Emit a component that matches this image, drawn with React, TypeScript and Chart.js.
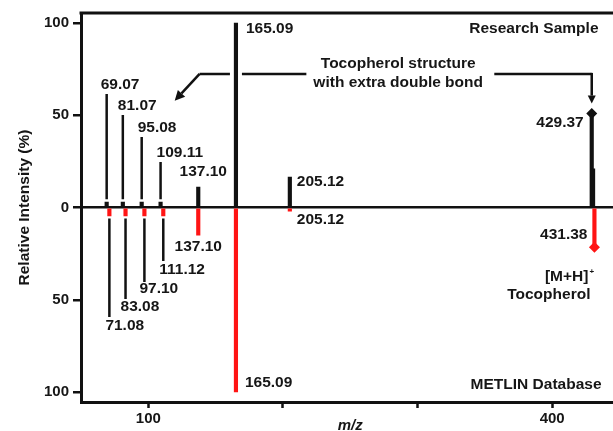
import React, { useEffect, useRef } from 'react';
import { Chart, registerables } from 'chart.js';

Chart.register(...registerables);

// ---------- data ----------
const sampleMz = [69.07, 81.07, 95.08, 109.11, 137.1, 165.09, 205.12, 429.37, 430.37];
const sampleIntensity = [3, 3, 3, 3, 11, 100, 16.5, 51, 21];
const sampleLabels = ['69.07', '81.07', '95.08', '109.11', '137.10', '165.09', '205.12', '429.37', ''];

const dbMz = [71.08, 83.08, 97.1, 111.12, 137.1, 165.09, 205.12, 431.38];
const dbIntensity = [4.5, 4.5, 4.5, 4.5, 15, 100, 2, 21.5];
const dbLabels = ['71.08', '83.08', '97.10', '111.12', '137.10', '165.09', '205.12', '431.38'];

const yTickValues = [-100, -50, 0, 50, 100];
const xTickValues = [100, 200, 300, 400];
const xTickLabels = ['100', '', '', '400'];

// ---------- annotation layout (styling) ----------
type Lay = { level: number; dx: number; align: CanvasTextAlign } | null;
const sampleLabelLayout: Lay[] = [
  { level: 66.4, dx: -6, align: 'left' },
  { level: 55.0, dx: -5, align: 'left' },
  { level: 43.1, dx: -4, align: 'left' },
  { level: 29.6, dx: -4, align: 'left' },
  { level: 19.2, dx: 5, align: 'center' },
  { level: 96.7, dx: 10, align: 'left' },
  { level: 13.8, dx: 7, align: 'left' },
  { level: 45.8, dx: -8, align: 'right' },
  null,
];
const dbLabelLayout: Lay[] = [
  { level: -64.2, dx: -4, align: 'left' },
  { level: -53.9, dx: -5, align: 'left' },
  { level: -44.2, dx: -5, align: 'left' },
  { level: -33.9, dx: -4, align: 'left' },
  { level: -21.4, dx: 0, align: 'center' },
  { level: -95.1, dx: 9, align: 'left' },
  { level: -6.8, dx: 7, align: 'left' },
  { level: -14.9, dx: -7, align: 'right' },
];
const sampleLeaderEnd = [61.5, 50.1, 38.2, 24.7];
const sampleLeaderStart = 4.5;
const dbLeaderEnd = [-59.3, -49.6, -40.4, -29.0];
const dbLeaderStart = -6;

const calloutLevel = 72.4;
const calloutLeftFrom = 217.4;
const calloutLeftTo = 138.1;
const calloutLeftTip = { x: 119.6, y: 57.9 };
const calloutRightFrom = 357;
const calloutRightTipLevel = 56.3;
const calloutText = ['Tocopherol structure', 'with extra double bond'];
const calloutTextX = 285.6;
const calloutTextLevels = [77.8, 67.5];

const FAMILY = '"Liberation Sans", Arial, Helvetica, sans-serif';
const INK = '#161616';
const RED = '#ff1414';

function arrowTo(ctx: CanvasRenderingContext2D, x0: number, y0: number, x1: number, y1: number, head = 9, halfW = 4.5) {
  const ang = Math.atan2(y1 - y0, x1 - x0);
  const bx = x1 - head * Math.cos(ang);
  const by = y1 - head * Math.sin(ang);
  ctx.beginPath();
  ctx.moveTo(x0, y0);
  ctx.lineTo(bx, by);
  ctx.stroke();
  ctx.beginPath();
  ctx.moveTo(x1, y1);
  ctx.lineTo(bx + halfW * Math.sin(ang), by - halfW * Math.cos(ang));
  ctx.lineTo(bx - halfW * Math.sin(ang), by + halfW * Math.cos(ang));
  ctx.closePath();
  ctx.fill();
}

const annotatePlugin = {
  id: 'annotate',
  afterDraw(chart: any) {
    const { ctx, chartArea } = chart;
    const x = chart.scales.x;
    const y = chart.scales.y;
    ctx.save();
    // top frame line
    ctx.strokeStyle = '#111';
    ctx.lineWidth = 3;
    ctx.beginPath();
    ctx.moveTo(chartArea.left - 1.5, chartArea.top);
    ctx.lineTo(chartArea.right, chartArea.top);
    ctx.stroke();

    ctx.fillStyle = INK;
    ctx.textBaseline = 'middle';
    ctx.font = `bold 15.5px ${FAMILY}`;
    sampleLabels.forEach((t, i) => {
      const l = sampleLabelLayout[i];
      if (!t || !l) return;
      ctx.textAlign = l.align;
      ctx.fillText(t, x.getPixelForValue(sampleMz[i]) + l.dx, y.getPixelForValue(l.level));
    });
    dbLabels.forEach((t, i) => {
      const l = dbLabelLayout[i];
      if (!t || !l) return;
      ctx.textAlign = l.align;
      ctx.fillText(t, x.getPixelForValue(dbMz[i]) + l.dx, y.getPixelForValue(l.level));
    });

    // callout text
    ctx.textAlign = 'center';
    calloutText.forEach((t, i) => {
      ctx.fillText(t, x.getPixelForValue(calloutTextX), y.getPixelForValue(calloutTextLevels[i]));
    });

    // callout arrows
    ctx.strokeStyle = '#111';
    ctx.fillStyle = '#111';
    ctx.lineWidth = 2.5;
    ctx.lineJoin = 'miter';
    const yl = y.getPixelForValue(calloutLevel);
    const gapX = x.getPixelForValue(sampleMz[5]);
    ctx.beginPath();
    ctx.moveTo(x.getPixelForValue(calloutLeftFrom), yl);
    ctx.lineTo(gapX + 6, yl);
    ctx.moveTo(gapX - 6, yl);
    ctx.lineTo(x.getPixelForValue(calloutLeftTo), yl);
    ctx.stroke();
    arrowTo(ctx, x.getPixelForValue(calloutLeftTo), yl, x.getPixelForValue(calloutLeftTip.x), y.getPixelForValue(calloutLeftTip.y), 10, 5);
    const rx = x.getPixelForValue(sampleMz[7]);
    ctx.beginPath();
    ctx.moveTo(x.getPixelForValue(calloutRightFrom), yl);
    ctx.lineTo(rx, yl);
    ctx.stroke();
    arrowTo(ctx, rx, yl - 1, rx, y.getPixelForValue(calloutRightTipLevel), 8, 4);

    // ion annotation
    ctx.fillStyle = INK;
    const dbx = x.getPixelForValue(dbMz[7]);
    ctx.textAlign = 'right';
    ctx.fillText('[M+H]', dbx - 6, y.getPixelForValue(-37.7));
    ctx.fillText('Tocopherol', dbx - 4, y.getPixelForValue(-47.4));
    ctx.font = `bold 8px ${FAMILY}`;
    ctx.textAlign = 'left';
    ctx.fillText('+', dbx - 5, y.getPixelForValue(-35));

    // corner titles
    ctx.font = `bold 15.5px ${FAMILY}`;
    ctx.textAlign = 'right';
    ctx.fillText('Research Sample', chartArea.right - 21, chartArea.top + 16);
    ctx.fillText('METLIN Database', chartArea.right - 18, chartArea.bottom - 17);
    ctx.restore();
  },
};

export default function App() {
  const ref = useRef<HTMLCanvasElement | null>(null);

  useEffect(() => {
    if (!ref.current) return;
    const leaderData: any[] = [];
    sampleLeaderEnd.forEach((end, i) => {
      leaderData.push({ x: sampleMz[i], y: sampleLeaderStart }, { x: sampleMz[i], y: end }, { x: sampleMz[i], y: null });
    });
    dbLeaderEnd.forEach((end, i) => {
      leaderData.push({ x: dbMz[i], y: dbLeaderStart }, { x: dbMz[i], y: end }, { x: dbMz[i], y: null });
    });

    const tickFont = { family: FAMILY, size: 15, weight: 'bold' as const };
    const chart = new Chart(ref.current, {
      type: 'bar',
      data: {
        datasets: [
          {
            type: 'bar',
            label: 'Research Sample',
            data: sampleMz.map((m, i) => ({ x: m, y: sampleIntensity[i] })),
            backgroundColor: '#111',
            barThickness: 3.5,
            grouped: false,
          } as any,
          {
            type: 'bar',
            label: 'METLIN Database',
            data: dbMz.map((m, i) => ({ x: m, y: -dbIntensity[i] })),
            backgroundColor: RED,
            barThickness: 3.5,
            grouped: false,
          } as any,
          {
            type: 'line',
            label: 'leaders',
            data: leaderData,
            borderColor: '#111',
            borderWidth: 2.5,
            pointRadius: 0,
            spanGaps: false,
          } as any,
          {
            type: 'line',
            label: 'markers',
            data: [
              { x: sampleMz[7], y: sampleIntensity[7] },
              { x: dbMz[7], y: -dbIntensity[7] },
            ],
            showLine: false,
            pointStyle: 'rectRot',
            pointRadius: 5.5,
            pointBackgroundColor: ['#111', RED],
            pointBorderColor: ['#111', RED],
            pointBorderWidth: 0,
          } as any,
        ],
      },
      options: {
        animation: false,
        responsive: false,
        events: [],
        layout: { padding: { top: 13, right: 4, left: 0, bottom: 0 } },
        plugins: { legend: { display: false }, tooltip: { enabled: false } },
        scales: {
          x: {
            type: 'linear',
            min: 50,
            max: 450,
            offset: false,
            afterBuildTicks: (s: any) => {
              s.ticks = xTickValues.map((v) => ({ value: v }));
            },
            afterFit: (s: any) => {
              s.height = 38;
            },
            grid: { drawOnChartArea: false, drawTicks: true, tickLength: 6, tickWidth: 2.5, tickColor: '#111', offset: false },
            border: { display: true, color: '#111', width: 3 },
            ticks: {
              callback: (_v: any, i: number) => xTickLabels[i],
              font: tickFont,
              color: INK,
              padding: 2,
              maxRotation: 0,
              autoSkip: false,
            },
            title: {
              display: true,
              text: 'm/z',
              font: { family: FAMILY, size: 15, weight: 'bold', style: 'italic' },
              color: INK,
              padding: { top: 0, bottom: 5 },
            },
          } as any,
          y: {
            type: 'linear',
            min: -105.4,
            max: 105.4,
            afterBuildTicks: (s: any) => {
              s.ticks = yTickValues.map((v) => ({ value: v }));
            },
            afterFit: (s: any) => {
              s.width = 81;
            },
            grid: {
              drawOnChartArea: true,
              drawTicks: true,
              color: (c: any) => (c.tick && c.tick.value === 0 ? '#111' : 'rgba(0,0,0,0)'),
              lineWidth: 2.5,
              tickColor: '#111',
              tickWidth: 2.5,
              tickLength: 8,
            },
            border: { display: true, color: '#111', width: 3 },
            ticks: {
              callback: (v: any) => String(Math.abs(Number(v))),
              font: tickFont,
              color: INK,
              padding: 4,
              autoSkip: false,
            },
            title: {
              display: true,
              text: 'Relative Intensity (%)',
              font: { family: FAMILY, size: 15.5, weight: 'bold' },
              color: INK,
              padding: { top: 15, bottom: 0 },
            },
          } as any,
        },
      },
      plugins: [annotatePlugin],
    });
    return () => chart.destroy();
  }, []);

  return (
    <div style={{ position: 'absolute', left: 0, top: 0, width: 613, height: 431, overflow: 'hidden', background: '#fff' }}>
      <canvas ref={ref} width={625} height={440} style={{ display: 'block', width: 625, height: 440 }} />
    </div>
  );
}
